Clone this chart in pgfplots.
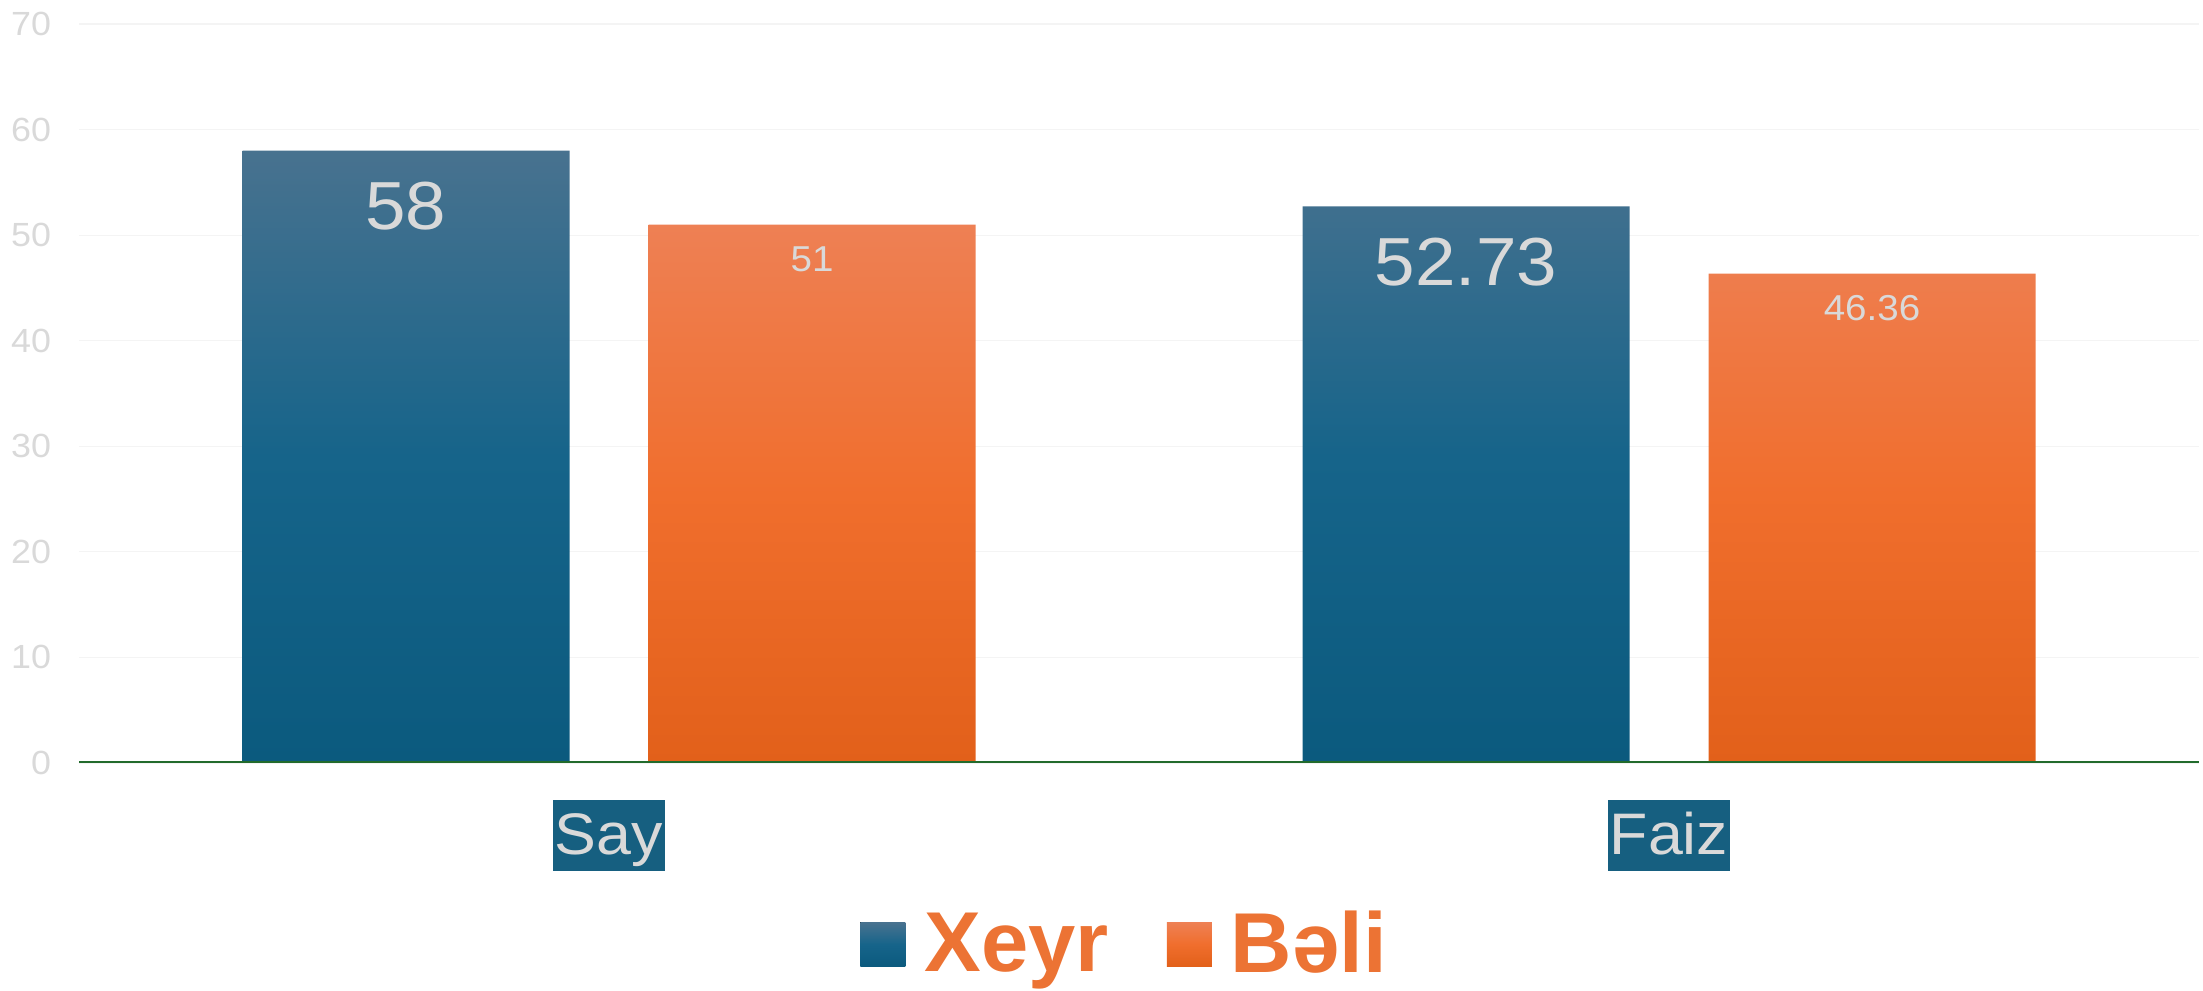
\documentclass[border=0pt]{standalone}
\usepackage{fontspec}
\setmainfont{Liberation Sans}
\newfontfamily\wfont[FakeStretch=1.07]{Liberation Sans}
\usepackage{pgfplots}
\pgfplotsset{compat=1.18}

\definecolor{tickc}{HTML}{D9D9D9}
\definecolor{gridc}{HTML}{F4F4F4}
\definecolor{axisg}{HTML}{226B2C}
\definecolor{xtop}{HTML}{48728F}
\definecolor{xmid}{HTML}{16648A}
\definecolor{xbot}{HTML}{0B5A7E}
\definecolor{btop}{HTML}{EE8054}
\definecolor{bmid}{HTML}{F06E2D}
\definecolor{bbot}{HTML}{E2601A}
\definecolor{catbox}{HTML}{165F80}
\definecolor{legc}{HTML}{EC7334}

\pgfplotsset{
  sq legend/.style={legend image code/.code={
    \fill[##1] (0pt,-11.5pt) rectangle (22.5pt,10.5pt);}},
}

\begin{document}
\begin{tikzpicture}
\useasboundingbox (0,0) rectangle (1101.5pt,495pt);
\begin{axis}[
  at={(39.5pt,113.5pt)}, anchor=south west,
  scale only axis, width=1060pt, height=369.5pt,
  xmin=-0.5, xmax=1.5, ymin=0, ymax=70,
  ytick={0,10,...,70},
  xtick={0,1}, xticklabels={Say,Faiz},
  ybar, bar width=163.5pt,
  axis line style={draw=none},
  major tick style={draw=none},
  ymajorgrids, major grid style={color=gridc, line width=0.6pt},
  /pgf/number format/assume math mode=true,
  yticklabel style={font=\wfont\fontsize{16.75}{18}\selectfont, text=tickc,
    anchor=east, inner sep=0pt, xshift=-13.75pt},
  xticklabel style={font=\wfont\fontsize{29.3}{32}\selectfont, text=tickc,
    fill=catbox, inner ysep=0pt, inner xsep=1pt, text height=27.5pt, text depth=8pt,
    anchor=north, yshift=-14pt},
  nodes near coords,
  every node near coord/.append style={text=tickc, anchor=center, inner sep=0pt},
  legend style={draw=none, fill=none, legend columns=-1,
    at={(0.4927,-0.2442)}, anchor=center, inner sep=0pt,
    font=\bfseries\fontsize{42.5}{46}\selectfont, text=legc,
    nodes={inner sep=0pt},
    /tikz/every odd column/.append style={column sep=9.5pt},
    /tikz/every even column/.append style={column sep=29pt}},
]
\addplot[bar shift=-101.5pt, draw=none,
  top color=xtop, bottom color=xbot, middle color=xmid, sq legend,
  every node near coord/.append style={font=\wfont\fontsize{34}{36}\selectfont, yshift=-27.8pt}]
  coordinates {(0,58) (1,52.73)};
\addplot[bar shift=101.5pt, draw=none,
  top color=btop, bottom color=bbot, middle color=bmid, sq legend,
  every node near coord/.append style={font=\wfont\fontsize{18}{20}\selectfont, yshift=-17.5pt}]
  coordinates {(0,51) (1,46.36)};
\legend{Xeyr, Bəli}
\draw[color=axisg, line width=1.6pt] (rel axis cs:0,0) -- (rel axis cs:1,0);
\end{axis}
\end{tikzpicture}
\end{document}
